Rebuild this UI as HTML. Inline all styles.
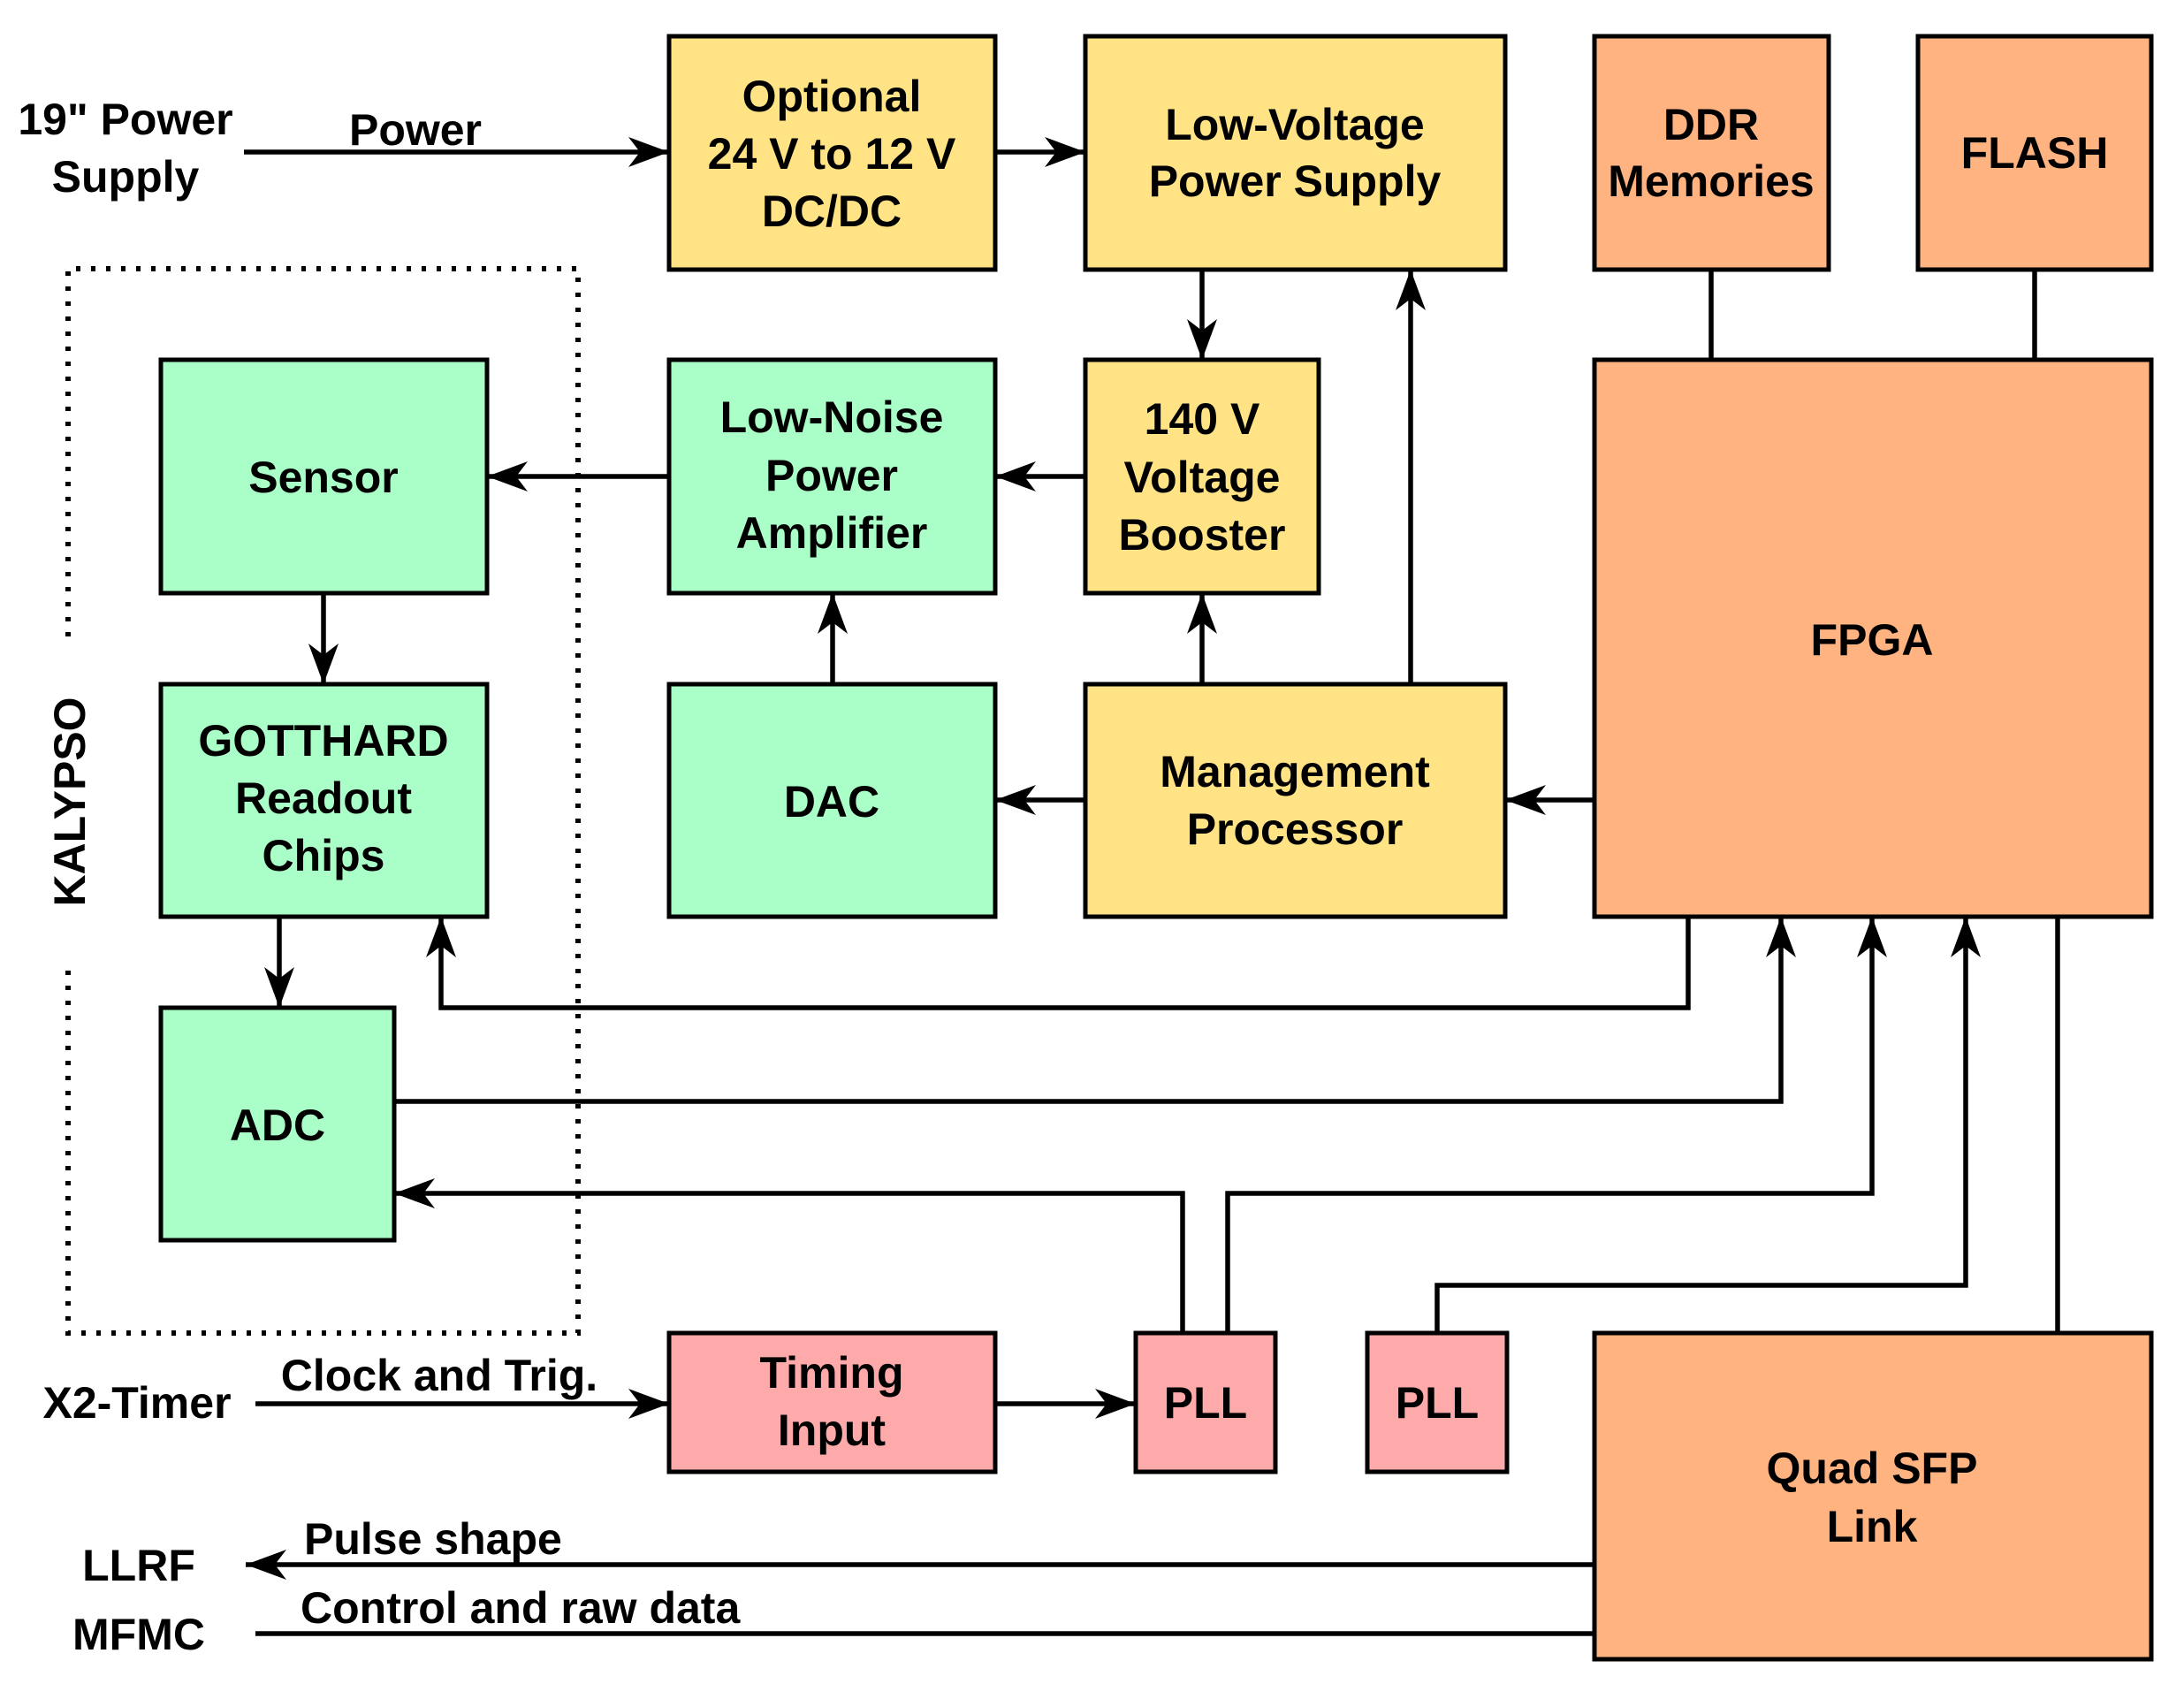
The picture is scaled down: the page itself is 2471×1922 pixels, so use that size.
<!DOCTYPE html>
<html><head><meta charset="utf-8"><style>
html,body{margin:0;padding:0;background:#fff;}
svg{display:block;}
text{font-family:"Liberation Sans",sans-serif;font-weight:bold;font-size:50px;fill:#000;}
</style></head><body>
<svg width="2471" height="1922" viewBox="0 0 2471 1922" xmlns="http://www.w3.org/2000/svg">
<defs>
<marker id="a" viewBox="-48 -20 50 40" refX="0" refY="0" markerWidth="50" markerHeight="40" orient="auto" markerUnits="userSpaceOnUse"><path d="M0,0 L-46,-17 L-33,0 L-46,17 Z" fill="#000"/></marker>
</defs>
<g stroke="#000" stroke-width="5">
<rect x="757" y="41" width="369" height="264" fill="#FFE384"/>
<rect x="1228" y="41" width="475" height="264" fill="#FFE384"/>
<rect x="1228" y="407" width="264" height="264" fill="#FFE384"/>
<rect x="1228" y="774" width="475" height="263" fill="#FFE384"/>
<rect x="1804" y="41" width="265" height="264" fill="#FFB380"/>
<rect x="2170" y="41" width="264" height="264" fill="#FFB380"/>
<rect x="1804" y="407" width="630" height="630" fill="#FFB380"/>
<rect x="1804" y="1508" width="630" height="369" fill="#FFB380"/>
<rect x="182" y="407" width="369" height="264" fill="#AAFFC8"/>
<rect x="757" y="407" width="369" height="264" fill="#AAFFC8"/>
<rect x="182" y="774" width="369" height="263" fill="#AAFFC8"/>
<rect x="757" y="774" width="369" height="263" fill="#AAFFC8"/>
<rect x="182" y="1140" width="264" height="263" fill="#AAFFC8"/>
<rect x="757" y="1508" width="369" height="157" fill="#FFAAAA"/>
<rect x="1285" y="1508" width="158" height="157" fill="#FFAAAA"/>
<rect x="1547" y="1508" width="158" height="157" fill="#FFAAAA"/>
</g>
<g stroke="#000" stroke-width="6" stroke-dasharray="5 12" fill="none">
<path d="M77,720 L77,304 L654,304 L654,1508 L77,1508 L77,1094"/>
</g>
<g stroke="#000" stroke-width="5.5" fill="none">
<line x1="276" y1="172" x2="757" y2="172" marker-end="url(#a)"/>
<line x1="1126" y1="172" x2="1228" y2="172" marker-end="url(#a)"/>
<line x1="1360" y1="305" x2="1360" y2="407" marker-end="url(#a)"/>
<line x1="1596" y1="774" x2="1596" y2="305" marker-end="url(#a)"/>
<line x1="1936" y1="305" x2="1936" y2="407"/>
<line x1="2302" y1="305" x2="2302" y2="407"/>
<line x1="1228" y1="539" x2="1126" y2="539" marker-end="url(#a)"/>
<line x1="757" y1="539" x2="551" y2="539" marker-end="url(#a)"/>
<line x1="942" y1="774" x2="942" y2="671" marker-end="url(#a)"/>
<line x1="1360" y1="774" x2="1360" y2="671" marker-end="url(#a)"/>
<line x1="1228" y1="905" x2="1126" y2="905" marker-end="url(#a)"/>
<line x1="1804" y1="905" x2="1703" y2="905" marker-end="url(#a)"/>
<line x1="366" y1="671" x2="366" y2="774" marker-end="url(#a)"/>
<line x1="316" y1="1037" x2="316" y2="1140" marker-end="url(#a)"/>
<polyline points="1910,1037 1910,1140 499,1140 499,1037" marker-end="url(#a)"/>
<polyline points="446,1246 2015,1246 2015,1037" marker-end="url(#a)"/>
<polyline points="1338,1508 1338,1350 446,1350" marker-end="url(#a)"/>
<polyline points="1389,1508 1389,1350 2118,1350 2118,1037" marker-end="url(#a)"/>
<polyline points="1626,1508 1626,1454 2224,1454 2224,1037" marker-end="url(#a)"/>
<line x1="2328" y1="1037" x2="2328" y2="1508"/>
<line x1="289" y1="1588" x2="757" y2="1588" marker-end="url(#a)"/>
<line x1="1126" y1="1588" x2="1285" y2="1588" marker-end="url(#a)"/>
<line x1="1804" y1="1770" x2="278" y2="1770" marker-end="url(#a)"/>
<line x1="1804" y1="1848" x2="289" y2="1848"/>
</g>
<g text-anchor="middle" dominant-baseline="central">
<text x="941" y="109">Optional</text>
<text x="941" y="174">24 V to 12 V</text>
<text x="941" y="239">DC/DC</text>
<text x="1465" y="141">Low-Voltage</text>
<text x="1465" y="205">Power Supply</text>
<text x="1936" y="141">DDR</text>
<text x="1936" y="205">Memories</text>
<text x="2302" y="173">FLASH</text>
<text x="366" y="540">Sensor</text>
<text x="941" y="472">Low-Noise</text>
<text x="941" y="538">Power</text>
<text x="941" y="603">Amplifier</text>
<text x="1360" y="474">140 V</text>
<text x="1360" y="540">Voltage</text>
<text x="1360" y="605">Booster</text>
<text x="2118" y="724">FPGA</text>
<text x="366" y="838">GOTTHARD</text>
<text x="366" y="903">Readout</text>
<text x="366" y="968">Chips</text>
<text x="941" y="907">DAC</text>
<text x="1465" y="873">Management</text>
<text x="1465" y="938">Processor</text>
<text x="314" y="1273">ADC</text>
<text x="941" y="1553">Timing</text>
<text x="941" y="1618">Input</text>
<text x="1364" y="1587">PLL</text>
<text x="1626" y="1587">PLL</text>
<text x="2118" y="1661">Quad SFP</text>
<text x="2118" y="1727">Link</text>
<text x="142" y="135">19" Power</text>
<text x="142" y="200">Supply</text>
<text x="470" y="147">Power</text>
<text x="155" y="1587">X2-Timer</text>
<text x="497" y="1556">Clock and Trig.</text>
<text x="157" y="1771">LLRF</text>
<text x="157" y="1849">MFMC</text>
<text transform="translate(79,907) rotate(-90)">KALYPSO</text>
</g>
<g dominant-baseline="central">
<text x="344" y="1741">Pulse shape</text>
<text x="340" y="1819">Control and raw data</text>
</g>
</svg>
</body></html>
